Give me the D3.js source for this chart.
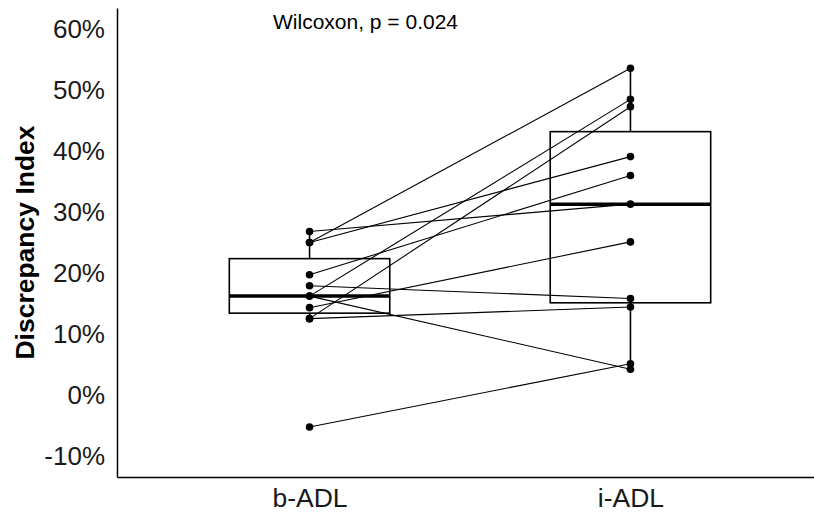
<!DOCTYPE html>
<html>
<head>
<meta charset="utf-8">
<script src="https://cdn.jsdelivr.net/npm/d3@7"></script>
<style>
  html, body { margin: 0; padding: 0; background: #fff; }
  svg { display: block; font-family: "Liberation Sans", Arial, sans-serif; }
</style>
</head>
<body>
<svg id="chart" width="814" height="514"></svg>
<script>
// ---- data ----
const groups = ["b-ADL", "i-ADL"];
const before = [26.8, 25.0, 25.0, 19.7, 17.9, 16.2, 16.2, 14.3, 12.5, 12.5, -5.3];
const after  = [31.3, 53.6, 39.1, 36.0, 15.8, 48.5, 4.2, 25.1, 47.3, 14.4, 5.1];
const yTicks = [-10, 0, 10, 20, 30, 40, 50, 60];
const yTitle = "Discrepancy Index";
const annotation = "Wilcoxon, p = 0.024";

// ---- layout ----
const svg = d3.select("#chart");
const panel = { left: 117, right: 823, top: 8, bottom: 477 };

const x = d3.scalePoint().domain(groups).range([panel.left, panel.right]).padding(0.6);
const y = d3.scaleLinear().domain([-13.5, 63.5]).range([panel.bottom, panel.top]);
const boxW = x.step() * 0.5;

function stats(v) {
  const s = v.slice().sort(d3.ascending);
  const q1 = d3.quantile(s, 0.25), med = d3.quantile(s, 0.5), q3 = d3.quantile(s, 0.75);
  const iqr = q3 - q1;
  const lo = d3.min(s.filter(d => d >= q1 - 1.5 * iqr));
  const hi = d3.max(s.filter(d => d <= q3 + 1.5 * iqr));
  return { q1, med, q3, lo, hi };
}
const series = [before, after];

// boxes
series.forEach((vals, i) => {
  const st = stats(vals);
  const cx = x(groups[i]);
  const g = svg.append("g");
  g.append("line").attr("x1", cx).attr("x2", cx).attr("y1", y(st.q3)).attr("y2", y(st.hi))
    .attr("stroke", "#000").attr("stroke-width", 1.6);
  g.append("line").attr("x1", cx).attr("x2", cx).attr("y1", y(st.q1)).attr("y2", y(st.lo))
    .attr("stroke", "#000").attr("stroke-width", 1.6);
  g.append("rect").attr("x", cx - boxW / 2).attr("width", boxW)
    .attr("y", y(st.q3)).attr("height", y(st.q1) - y(st.q3))
    .attr("fill", "#fff").attr("stroke", "#000").attr("stroke-width", 1.6);
  g.append("line").attr("x1", cx - boxW / 2).attr("x2", cx + boxW / 2)
    .attr("y1", y(st.med)).attr("y2", y(st.med))
    .attr("stroke", "#000").attr("stroke-width", 3.5);
});

// paired lines
const pairs = before.map((b, i) => [b, after[i]]);
svg.append("g").selectAll("line").data(pairs).join("line")
  .attr("x1", x(groups[0])).attr("x2", x(groups[1]))
  .attr("y1", d => y(d[0])).attr("y2", d => y(d[1]))
  .attr("stroke", "#000").attr("stroke-width", 1.1);

// points
series.forEach((vals, i) => {
  svg.append("g").selectAll("circle").data(vals).join("circle")
    .attr("cx", x(groups[i])).attr("cy", d => y(d)).attr("r", 3.8).attr("fill", "#000");
});

// axes
const yAxis = d3.axisLeft(y).tickValues(yTicks).tickFormat(d => d + "%").tickSize(0).tickPadding(12);
const gy = svg.append("g").attr("transform", `translate(${panel.left},0)`).call(yAxis);
gy.select(".domain").attr("stroke", "#000").attr("stroke-width", 1.5);
gy.selectAll("text").attr("font-size", 26).attr("fill", "#1a1a1a").attr("font-family", "Liberation Sans, Arial, sans-serif");

const xAxis = d3.axisBottom(x).tickSize(0).tickPadding(11);
const gx = svg.append("g").attr("transform", `translate(0,${panel.bottom})`).call(xAxis);
gx.select(".domain").attr("stroke", "#000").attr("stroke-width", 1.5);
gx.selectAll("text").attr("font-size", 26.5).attr("fill", "#1a1a1a").attr("font-family", "Liberation Sans, Arial, sans-serif");

// y title
svg.append("text")
  .attr("transform", `translate(34,${(panel.top + panel.bottom) / 2}) rotate(-90)`)
  .attr("text-anchor", "middle")
  .attr("font-size", 26.5).attr("font-weight", "bold").attr("fill", "#000")
  .text(yTitle);

// annotation
svg.append("text")
  .attr("x", 273).attr("y", 29)
  .attr("font-size", 21).attr("fill", "#000")
  .text(annotation);
</script>
</body>
</html>
